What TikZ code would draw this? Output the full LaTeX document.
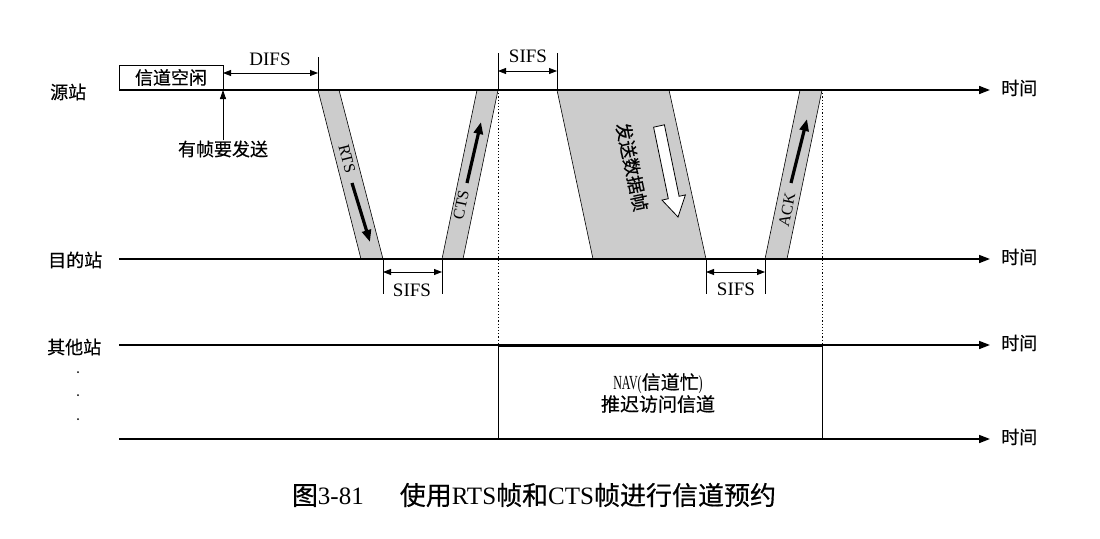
\documentclass[tikz,border=0pt]{standalone}
\usepackage{fontspec}
\setmainfont{Liberation Serif}
\newfontfamily\cjk[FakeBold=0.5]{Noto Sans CJK SC}
\newfontfamily\navfont[FakeStretch=0.6]{Liberation Serif}
\usetikzlibrary{arrows.meta}
\newcommand\capc[1]{{\cjk\fontsize{26}{28}\selectfont #1}}
\begin{document}
\begin{tikzpicture}[x=1pt,y=-1pt,
 axis/.style={line width=1.6pt, -{Triangle[length=11pt,width=8pt]}},
 dim/.style={line width=0.8pt, {Triangle[length=8pt,width=6pt]}-{Triangle[length=8pt,width=6pt]}},
 tickline/.style={line width=0.7pt},
 framebox/.style={fill=gray!40, draw=black, line width=0.6pt},
 inarrow/.style={line width=3.2pt, -{Triangle[length=12pt,width=9pt]}},
 lab/.style={font=\cjk\fontsize{18}{20}\selectfont, inner sep=0pt},
 lat/.style={font=\fontsize{19}{21}\selectfont, inner sep=0pt},
 vlab/.style={font=\fontsize{16}{18}\selectfont, inner sep=0pt},
 vline/.style={line width=0.8pt},
 dotline/.style={line width=1pt, dash pattern=on 1.2pt off 2pt},
]
\useasboundingbox (0,0) rectangle (1100,538);

% frames
\draw[framebox] (318,90) -- (339,90) -- (383,259) -- (361,259) -- cycle;
\draw[framebox] (442,259) -- (463,259) -- (498,90) -- (477,90) -- cycle;
\draw[framebox] (557,90) -- (669,90) -- (706,259) -- (593,259) -- cycle;
\draw[framebox] (765,259) -- (787,259) -- (822,90) -- (800,90) -- cycle;

% coordinates
\coordinate (s0) at (119,90);  \coordinate (s1) at (990,90);
\coordinate (d0) at (119,259); \coordinate (d1) at (990,259);
\coordinate (o0) at (119,345); \coordinate (o1) at (990,345);
\coordinate (b0) at (119,439); \coordinate (b1) at (990,439);
\coordinate (navL) at (498,345); \coordinate (navR) at (822,345);
\coordinate (navLb) at (498,439); \coordinate (navRb) at (822,439);

% station labels
\node[lab, anchor=west] (src) at (50,92) {源站};
\node[lab, anchor=west] (dst) at (48,260) {目的站};
\node[lab, anchor=west] (oth) at (47,347) {其他站};
\fill (78,372) circle (1pt);
\fill (78,395) circle (1pt);
\fill (78,419) circle (1pt);

% axes
\draw[axis] (s0) -- (s1);
\draw[axis] (d0) -- (d1);
\draw[axis] (o0) -- (o1);
\draw[axis] (b0) -- (b1);
\node[lab, anchor=west] (t1) at (1001,88) {时间};
\node[lab, anchor=west] (t2) at (1001,257) {时间};
\node[lab, anchor=west] (t3) at (1001,343) {时间};
\node[lab, anchor=west] (t4) at (1001,437) {时间};

% idle box
\node[lab, draw, line width=0.7pt, minimum width=104pt, minimum height=25pt] (idle) at (171,77.5) {信道空闲};

% DIFS
\coordinate (difsR) at (318,57);
\draw[tickline] (difsR) -- (318,90);
\draw[dim] (223,73) -- (318,73);
\node[lat] (difs) at (270,59) {DIFS};

% frame to send
\node[lab] (send) at (223,149) {有帧要发送};
\draw[line width=0.8pt, -{Triangle[length=9pt,width=6pt]}] (send.north) -- (223,90);

% top SIFS
\draw[tickline] (498,53) -- (498,90);
\draw[tickline] (557,53) -- (557,90);
\draw[dim] (498,71) -- (557,71);
\node[lat] (sifs1) at (528,56) {SIFS};

% bottom SIFS
\draw[tickline] (383,259) -- (383,294);
\draw[tickline] (442,259) -- (442,294);
\draw[dim] (383,272) -- (442,272);
\node[lat] (sifs2) at (412,290) {SIFS};
\draw[tickline] (706,259) -- (706,294);
\draw[tickline] (765,259) -- (765,294);
\draw[dim] (706,272) -- (765,272);
\node[lat] (sifs3) at (736,289) {SIFS};

% dotted verticals
\draw[dotline] (498,90) -- (navL);
\draw[dotline] (822,90) -- (navR);

% NAV
\draw[line width=3pt] (navL) -- (navR);
\draw[vline] (navL) -- (navLb);
\draw[vline] (navR) -- (navRb);
\node[lab, align=center, font=\cjk\fontsize{19}{22}\selectfont] (nav) at (658,393) {{\navfont\fontsize{20}{22}\selectfont NAV(}信道忙{\navfont\fontsize{20}{22}\selectfont )}\\推迟访问信道};

% labels in frames
\node[vlab, rotate=-75.7] (rts) at (347,159) {RTS};
\node[vlab, rotate=78.3] (cts) at (461,205) {CTS};
\node[vlab, rotate=78.3] (ack) at (787,210) {ACK};
\node[lab, rotate=-78] (data) at (632,167) {发送数据帧};

% inner arrows
\draw[inarrow] (352,183) -- (370,242);
\draw[inarrow] (467,183) -- (481,122);
\draw[inarrow] (791,183) -- (807,119);
\draw[fill=white, line width=0.8pt] (664.4,124.8) -- (679.1,196.3) -- (685.4,194.9) -- (678,217) -- (662.0,200.1) -- (668.3,198.7) -- (653.6,127.2) -- cycle;

% caption
\node[inner sep=0pt, font=\fontsize{25}{28}\selectfont] (cap) at (534,495) {\capc{图}3-81\hspace{36pt}\capc{使用}RTS\capc{帧和}CTS\capc{帧进行信道预约}};
\end{tikzpicture}
\end{document}
